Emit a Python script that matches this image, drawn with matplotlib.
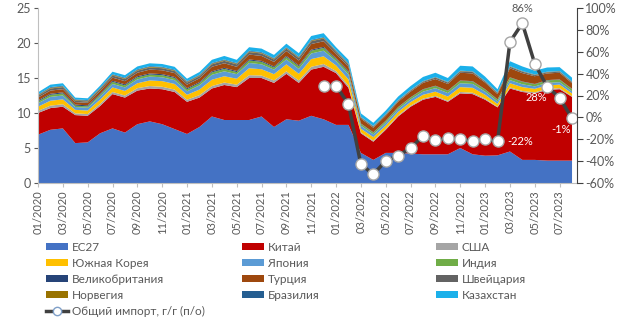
import matplotlib.pyplot as plt
from matplotlib.lines import Line2D
import numpy as np

plt.rcParams['font.family'] = ['Lato', 'DejaVu Sans']

# months 01/2020 .. 08/2023
months = ['%02d/%d' % (m % 12 + 1, 2020 + m // 12) for m in range(44)]

eu27 = [6.9, 7.6, 7.8, 5.7, 5.8, 7.1, 7.8, 7.2, 8.4, 8.8, 8.4, 7.7,
        7.0, 8.0, 9.5, 9.0, 9.0, 9.0, 9.5, 8.0, 9.1, 8.9, 9.6, 9.1,
        8.3, 8.3, 4.3, 3.3, 4.3, 4.3, 4.2, 4.1, 4.1, 4.1, 5.0, 4.1,
        3.9, 3.95, 4.5, 3.3, 3.3, 3.2, 3.2, 3.2]
china = [3.1, 3.1, 3.1, 4.0, 3.8, 3.9, 4.9, 5.0, 4.8, 4.7, 5.0, 5.3,
         4.6, 4.2, 4.0, 5.0, 4.7, 6.0, 5.5, 6.3, 6.5, 5.4, 6.6, 7.5,
         7.4, 5.3, 2.8, 2.6, 3.3, 5.2, 6.7, 7.8, 8.2, 7.5, 7.8, 8.6,
         8.0, 6.85, 9.0, 9.7, 9.5, 10.1, 10.2, 9.1]
usa = [0.3, 0.35, 0.35, 0.25, 0.25, 0.3, 0.3, 0.3, 0.35, 0.35, 0.35, 0.35,
       0.3, 0.35, 0.35, 0.35, 0.35, 0.4, 0.35, 0.35, 0.35, 0.35, 0.4, 0.4,
       0.3, 0.3, 0.15, 0.15, 0.15, 0.15, 0.15, 0.15, 0.15, 0.15, 0.2, 0.2,
       0.15, 0.1, 0.15, 0.15, 0.15, 0.15, 0.15, 0.1]
korea = [0.6, 0.7, 0.7, 0.5, 0.5, 0.6, 0.65, 0.65, 0.7, 0.8, 0.8, 0.8,
         0.7, 0.8, 0.9, 0.9, 0.85, 1.0, 0.9, 0.9, 1.0, 0.95, 1.1, 1.1,
         0.8, 0.9, 0.5, 0.5, 0.45, 0.5, 0.5, 0.55, 0.6, 0.6, 0.7, 0.7,
         0.55, 0.4, 0.6, 0.55, 0.5, 0.5, 0.5, 0.4]
japan = [0.5, 0.55, 0.55, 0.4, 0.4, 0.45, 0.5, 0.5, 0.55, 0.55, 0.55, 0.55,
         0.5, 0.6, 0.7, 0.7, 0.65, 0.75, 0.7, 0.65, 0.7, 0.7, 0.8, 0.8,
         0.6, 0.7, 0.45, 0.4, 0.4, 0.4, 0.4, 0.45, 0.5, 0.5, 0.55, 0.55,
         0.45, 0.35, 0.45, 0.4, 0.35, 0.35, 0.35, 0.3]
india = [0.25, 0.3, 0.3, 0.2, 0.2, 0.25, 0.3, 0.3, 0.3, 0.3, 0.3, 0.3,
         0.3, 0.3, 0.35, 0.35, 0.3, 0.35, 0.35, 0.3, 0.35, 0.35, 0.4, 0.4,
         0.3, 0.35, 0.25, 0.25, 0.25, 0.25, 0.25, 0.3, 0.3, 0.3, 0.35, 0.35,
         0.3, 0.25, 0.35, 0.35, 0.3, 0.35, 0.35, 0.3]
uk = [0.15, 0.15, 0.15, 0.15, 0.15, 0.15, 0.15, 0.15, 0.15, 0.15, 0.15, 0.15,
      0.15, 0.15, 0.15, 0.15, 0.15, 0.15, 0.15, 0.15, 0.15, 0.15, 0.15, 0.15,
      0.15, 0.15, 0.05, 0.05, 0.05, 0.05, 0.05, 0.05, 0.05, 0.05, 0.05, 0.05,
      0.05, 0.05, 0.05, 0.05, 0.05, 0.05, 0.05, 0.05]
turkey = [0.4, 0.45, 0.45, 0.35, 0.35, 0.4, 0.45, 0.45, 0.5, 0.55, 0.55, 0.55,
          0.5, 0.55, 0.65, 0.65, 0.6, 0.7, 0.7, 0.65, 0.7, 0.7, 0.8, 0.8,
          0.6, 0.6, 0.7, 0.65, 0.7, 0.75, 0.8, 0.9, 0.95, 0.95, 1.1, 1.1,
          0.95, 0.75, 1.3, 1.2, 1.1, 0.95, 0.95, 0.8]
swiss = [0.25, 0.3, 0.3, 0.2, 0.2, 0.25, 0.3, 0.3, 0.3, 0.3, 0.3, 0.3,
         0.3, 0.3, 0.35, 0.35, 0.35, 0.35, 0.35, 0.35, 0.35, 0.35, 0.4, 0.4,
         0.3, 0.3, 0.15, 0.15, 0.15, 0.15, 0.15, 0.15, 0.2, 0.2, 0.2, 0.2,
         0.15, 0.15, 0.2, 0.2, 0.15, 0.15, 0.15, 0.15]
norway = [0.1, 0.1, 0.1, 0.1, 0.1, 0.1, 0.1, 0.1, 0.1, 0.1, 0.1, 0.1,
          0.1, 0.1, 0.1, 0.1, 0.1, 0.1, 0.1, 0.1, 0.1, 0.1, 0.1, 0.1,
          0.1, 0.1, 0.05, 0.05, 0.05, 0.05, 0.05, 0.05, 0.05, 0.05, 0.05, 0.05,
          0.05, 0.05, 0.05, 0.05, 0.05, 0.05, 0.05, 0.05]
brazil = [0.1, 0.1, 0.1, 0.1, 0.1, 0.1, 0.1, 0.1, 0.1, 0.1, 0.1, 0.1,
          0.1, 0.1, 0.1, 0.1, 0.1, 0.1, 0.1, 0.1, 0.1, 0.1, 0.1, 0.1,
          0.1, 0.1, 0.05, 0.05, 0.05, 0.05, 0.05, 0.05, 0.05, 0.05, 0.05, 0.05,
          0.05, 0.05, 0.05, 0.05, 0.05, 0.05, 0.05, 0.05]
kazakh = [0.3, 0.35, 0.35, 0.25, 0.25, 0.3, 0.35, 0.35, 0.4, 0.4, 0.4, 0.4,
          0.35, 0.4, 0.45, 0.5, 0.45, 0.5, 0.5, 0.45, 0.5, 0.5, 0.55, 0.55,
          0.45, 0.5, 0.5, 0.45, 0.5, 0.5, 0.55, 0.6, 0.6, 0.55, 0.7, 0.7,
          0.6, 0.45, 0.7, 0.65, 0.55, 0.6, 0.55, 0.55]

# total import y/y, %, from 12/2021
yoy_start = 23
yoy = [29, 29, 12, -43, -52, -40, -35, -28, -17, -21, -19, -19.5, -22, -20,
       -22, 69, 86, 49, 28, 18, -1]
labelled = {37: 'right', 39: 'top', 41: 'below', 43: 'below'}

names = ['ЕС27', 'Китай', 'США', 'Южная Корея', 'Япония', 'Индия',
         'Великобритания', 'Турция', 'Швейцария', 'Норвегия', 'Бразилия',
         'Казахстан']
colors = ['#4472C4', '#C00000', '#A5A5A5', '#FFC000', '#5B9BD5', '#70AD47',
          '#264478', '#9E480E', '#636363', '#997300', '#255E91', '#1BB0EA']
series = [eu27, china, usa, korea, japan, india, uk, turkey, swiss, norway,
          brazil, kazakh]
line_name = 'Общий импорт, г/г (п/о)'

txt = '#595959'
fig = plt.figure(figsize=(6.2, 3.29), dpi=100)
ax = fig.add_axes([38 / 620, 1 - 183 / 329, 539 / 620, 175 / 329])
x = np.arange(len(months))
polys = ax.stackplot(x, series, colors=colors, labels=names, linewidth=0)
ax.set_xlim(0, 43.4)
ax.set_ylim(0, 25)
ax.set_yticks(range(0, 26, 5))
ax.set_xticks(x[::2])
ax.set_xticklabels(months[::2], rotation=90, fontsize=8, color=txt)
ax.tick_params(axis='y', labelsize=9, colors=txt, length=3, pad=2)
ax.tick_params(axis='x', length=3, color='#BFBFBF', pad=2)
for s in ['top', 'right']:
    ax.spines[s].set_visible(False)
ax.spines['left'].set_color('#BFBFBF')
ax.spines['bottom'].set_color('#BFBFBF')

ax2 = ax.twinx()
xl = np.arange(yoy_start, yoy_start + len(yoy))
ax2.plot(xl, yoy, color='#404040', lw=2.5, marker='o', ms=8,
         mfc='white', mec='#A6A6A6', mew=1)
ax2.set_ylim(-60, 100)
ax2.set_yticks(range(-60, 101, 20))
ax2.set_yticklabels(['%d%%' % v for v in range(-60, 101, 20)])
ax2.tick_params(axis='y', labelsize=9, colors=txt, length=4, pad=2)
ax2.tick_params(axis='y', color='#404040')
for s in ['top', 'left', 'bottom']:
    ax2.spines[s].set_visible(False)
ax2.spines['right'].set_color('#404040')

for m, pos in labelled.items():
    v = yoy[m - yoy_start]
    s = '%d%%' % round(v)
    if pos == 'top':
        ax2.annotate(s, (m, v), xytext=(0, 7), textcoords='offset points',
                     ha='center', va='bottom', fontsize=8, color=txt)
    elif pos == 'right':
        ax2.annotate(s, (m, v), xytext=(7, 0), textcoords='offset points',
                     ha='left', va='center', fontsize=8, color='white')
    else:
        ax2.annotate(s, (m, v), xytext=(-8, -8), textcoords='offset points',
                     ha='center', va='center', fontsize=8, color='white')

# legend proxy for the line (smaller marker, like the original)
ln = Line2D([], [], color='#404040', lw=2.5, marker='o', ms=6,
            mfc='white', mec='#7F9FC8', mew=1)

# legend: three columns, row-wise order
cols = [[0, 3, 6, 9], [1, 4, 7, 10], [2, 5, 8, 11]]
xs = [46, 242, 436]
for ci, idx in enumerate(cols):
    h = [polys[i] for i in idx]
    lab = [names[i] for i in idx]
    if ci == 0:
        h.append(ln)
        lab.append(line_name)
    leg = fig.legend(h, lab, loc='upper left',
                     bbox_to_anchor=(xs[ci] / 620, 1 - 242 / 329),
                     frameon=False, fontsize=8.5, handlelength=1.9,
                     handleheight=0.55, handletextpad=0.3, labelspacing=0.42,
                     borderpad=0, borderaxespad=0)
    for t in leg.get_texts():
        t.set_color(txt)

fig.savefig('out.png', dpi=100)
